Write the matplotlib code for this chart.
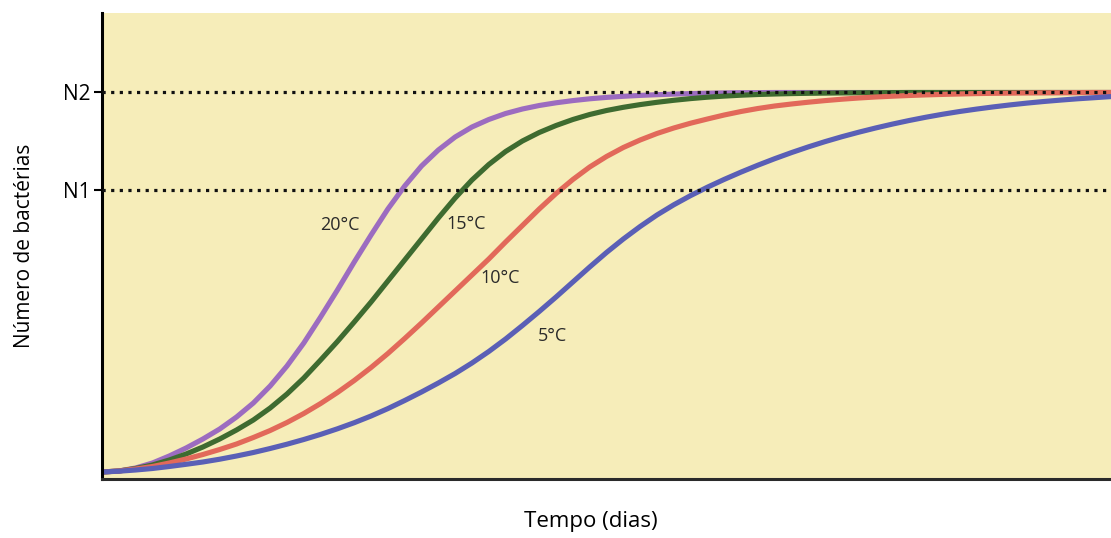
import matplotlib
matplotlib.use("Agg")
import matplotlib.pyplot as plt

plt.rcParams['font.family'] = ['Open Sans', 'DejaVu Sans']

# niveis de referencia (unidades arbitrarias)
N1 = 289
N2 = 387
level_labels = ["N1", "N2"]

# tempo em dias (escala arbitraria, 0 a 60)
tempo = list(range(61))

# numero de bacterias, um valor por dia
n_20 = [7, 8, 11, 16, 23, 31, 40, 50, 62, 76, 93, 113, 136, 162, 189, 217, 244, 270, 293, 313,
        329, 342, 352, 359.5, 365.5, 370, 373.5, 376.2, 378.4, 380.2, 381.6, 382.7, 383.6, 384.3,
        384.9, 385.4, 385.8, 386.1, 386.3, 386.4] + [386.5] * 21
n_15 = [7, 8, 10.5, 14, 19, 25, 32, 40, 49, 59, 71, 85, 101, 119, 137.5, 157, 177, 198, 219, 240,
        261, 281, 299, 314.5, 327.5, 338, 346.5, 353.5, 359.5, 364.5, 368.5, 371.7, 374.4, 376.7,
        378.7, 380.4, 381.8, 382.9, 383.8, 384.5, 385, 385.4, 385.7, 385.9, 386.1, 386.2, 386.3,
        386.4] + [386.5] * 13
n_10 = [7, 8, 10, 12.5, 16, 20, 24.5, 29.5, 35, 41.5, 48.5, 56.5, 65.5, 75.5, 86.5, 98.5, 111.5,
        125.5, 140.5, 156, 172, 188, 204, 220, 237, 253.5, 270, 285.5, 299.5, 312, 322.5, 331.5,
        339, 345.5, 351, 355.8, 360, 364, 367.5, 370.5, 373, 375, 376.8, 378.4, 379.8, 381, 382,
        382.8, 383.5, 384.1, 384.6, 385, 385.4, 385.7, 385.9, 386.1, 386.2, 386.3, 386.4, 386.5,
        386.5]
n_5 = [7, 7.8, 9, 10.5, 12.5, 14.7, 17, 19.8, 23, 26.5, 30.5, 34.8, 39.5, 44.6, 50.2, 56.3, 63,
       70.4, 78.5, 87, 96, 105.5, 116, 127.5, 140, 153.5, 167.5, 182, 197, 212, 226.5, 240, 252.5,
       264, 274.2, 283.4, 291.8, 299.6, 306.9, 313.8, 320.3, 326.4, 332.1, 337.4, 342.3, 346.8,
       351, 354.9, 358.5, 361.8, 364.8, 367.5, 369.9, 372.1, 374.1, 375.9, 377.5, 378.9, 380.2,
       381.3, 382.4]

curve_names = ["20°C", "15°C", "10°C", "5°C"]
curve_colors = ["#9c6cc0", "#3e6b30", "#e2695a", "#5a5fb6"]
# posicao dos rotulos (dias, bacterias)
label_x = [14.15, 21.64, 23.66, 26.81]
label_y = [254, 255, 201, 143]

fig = plt.figure(figsize=(11.11, 5.38), dpi=100)
ax = fig.add_axes([102 / 1111, 59 / 538, 1 - 102 / 1111, 466 / 538])
ax.set_facecolor("#f6edb9")

for ys, c in zip([n_20, n_15, n_10, n_5], curve_colors):
    ax.plot(tempo, ys, color=c, lw=3.7, solid_capstyle="round", solid_joinstyle="round", zorder=2)

for lv in [N1, N2]:
    ax.axhline(lv, color="#111111", lw=2.3, linestyle=(0, (1, 1.7)), zorder=3)

for name, lx, ly in zip(curve_names, label_x, label_y):
    ax.text(lx, ly, name, fontsize=13, color="#2a2a2a", ha="center", va="center")

ax.set_xlim(0, 60)
ax.set_ylim(0, 466)
ax.set_xticks([])
ax.set_yticks([N1, N2])
ax.set_yticklabels(level_labels, fontsize=15)
ax.tick_params(axis="y", length=6, width=1.5, pad=2)

for s in ["top", "right"]:
    ax.spines[s].set_visible(False)
ax.spines["left"].set_linewidth(2.2)
ax.spines["bottom"].set_linewidth(2.2)
ax.spines["bottom"].set_color("#2a2a2a")

ax.set_xlabel("Tempo (dias)", fontsize=16)
ax.xaxis.set_label_coords(0.484, -0.068)
ax.set_ylabel("Número de bactérias", fontsize=15)
ax.yaxis.set_label_coords(-0.066, 0.5)

fig.savefig("out.png", dpi=100)
